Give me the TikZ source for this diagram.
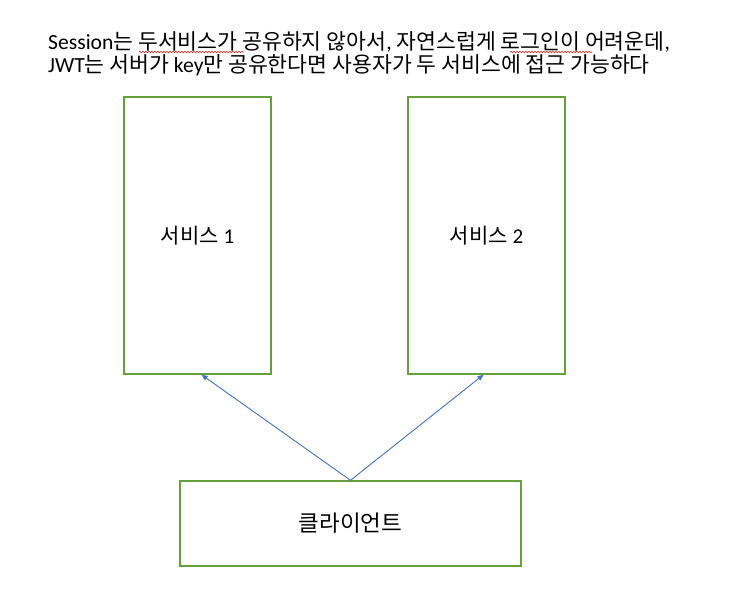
\documentclass[tikz,border=0pt]{standalone}
\usepackage{fontspec}
\setmainfont{Noto Sans CJK KR}
\newfontfamily\lat{Carlito}
\usetikzlibrary{arrows.meta,decorations.pathmorphing,calc}
\definecolor{boxgreen}{RGB}{100,160,60}
\definecolor{arrowblue}{RGB}{68,114,196}
\definecolor{wavered}{RGB}{220,40,40}
\tikzset{
  svcbox/.style={draw=boxgreen, line width=1.4pt, inner sep=0pt, fill=white},
  titletext/.style={anchor=base west, inner sep=0pt, text height=15pt, text depth=3pt, font=\fontsize{21.6}{26}\selectfont},
  conn/.style={draw=arrowblue, line width=0.9pt, -{Triangle[length=6pt,width=5pt]}},
  spell/.style={draw=wavered, line width=0.6pt, decorate, decoration={snake, amplitude=0.8pt, segment length=3pt}}
}
\begin{document}
\begin{tikzpicture}[x=1pt,y=-1pt]
\useasboundingbox[fill=white] (0,0) rectangle (734,611);
\node[titletext] (t1) at (48,49) {{\lat Session}는 두서비스가 공유하지 않아서{\lat ,} 자연스럽게 로그인이 어려운데{\lat ,}};
\node[titletext] (t2) at (48,72.5) {{\lat JWT}는 서버가 {\lat key}만 공유한다면 사용자가 두 서비스에 접근 가능하다};
\draw[spell] (139,52) -- (244,52);
\draw[spell] (510,52) -- (592,52);
\node[svcbox, minimum width=147, minimum height=277, font=\fontsize{21}{24}\selectfont] (s1) at (197.5,235.5) {서비스 {\lat 1}};
\node[svcbox, minimum width=157, minimum height=277, font=\fontsize{21}{24}\selectfont] (s2) at (486.5,235.5) {서비스 {\lat 2}};
\node[svcbox, minimum width=341, minimum height=85, font=\fontsize{22.5}{26}\selectfont] (c) at (350.5,523.5) {클라이언트};
\draw[conn] (c.north) -- ($(s1.south)+(4,0)$);
\draw[conn] (c.north) -- ($(s2.south)+(-3,0)$);
\end{tikzpicture}
\end{document}
